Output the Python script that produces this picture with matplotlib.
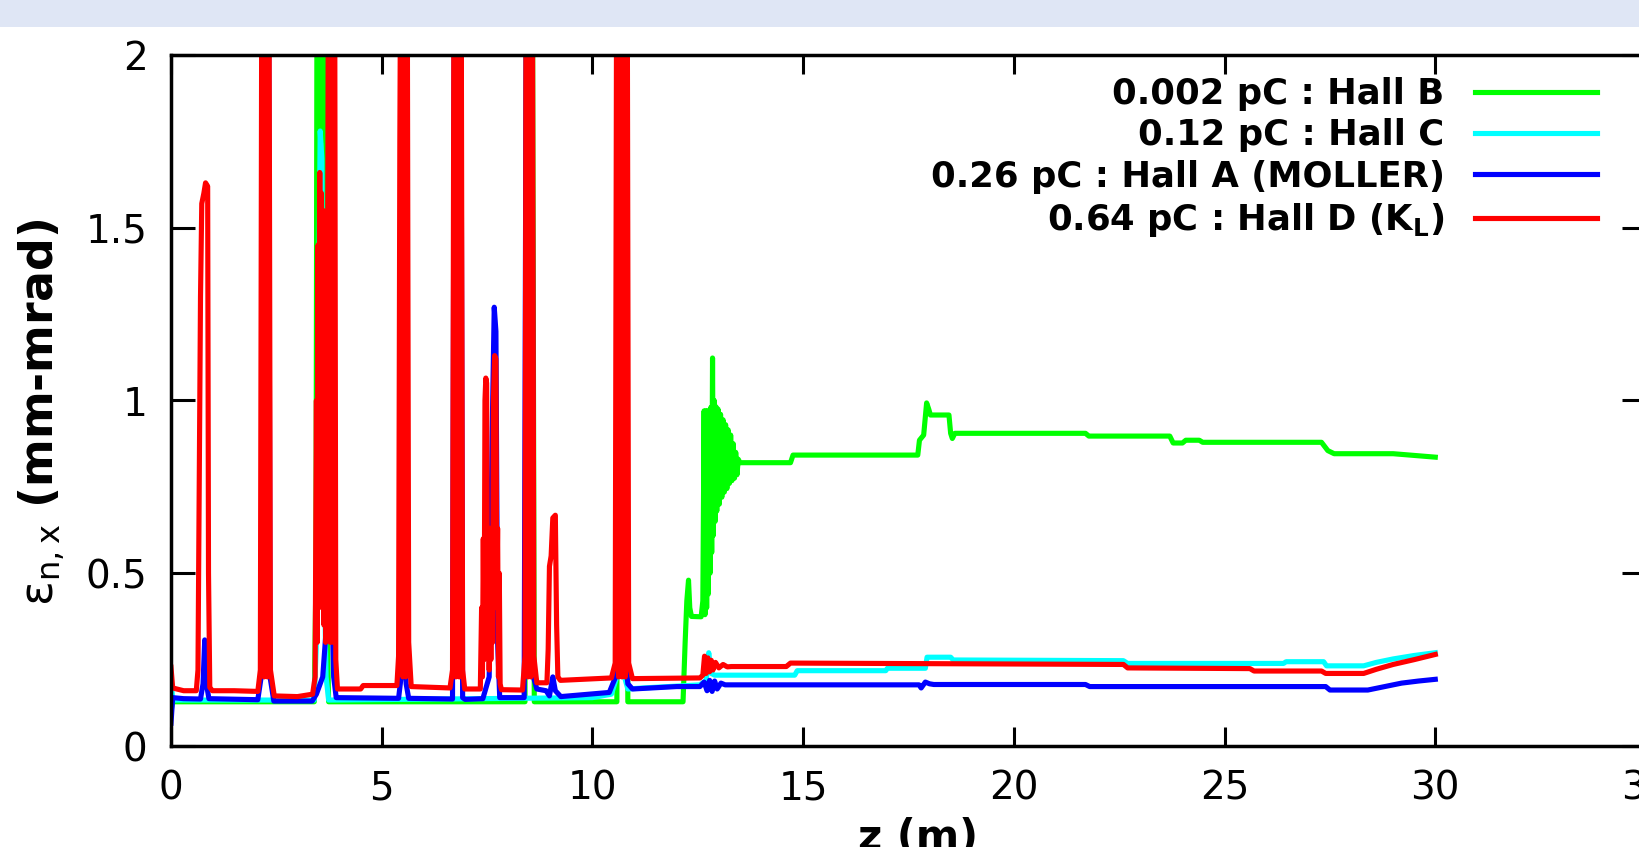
import matplotlib
matplotlib.use("Agg")
import matplotlib.pyplot as plt
from matplotlib.patches import Rectangle

# Normalised horizontal emittance along the beamline for four bunch charges
z_hallB = [0.00, 0.04, 3.40, 3.44, 3.47, 3.52, 3.56, 3.60, 3.65, 3.70, 3.74,
           8.40, 8.44, 8.57, 8.62, 10.58, 10.62, 10.80, 10.84,
           12.15, 12.20, 12.24, 12.28, 12.31, 12.35, 12.58, 12.62,
           12.65, 12.67, 12.69, 12.71, 12.73, 12.75, 12.77, 12.79, 12.81, 12.83,
           12.85, 12.87, 12.89, 12.91, 12.93, 12.95, 12.98, 13.01, 13.04, 13.07,
           13.10, 13.13, 13.16, 13.19, 13.22, 13.25, 13.28, 13.31, 13.34, 13.37,
           13.40, 13.43, 13.46, 13.50,
           14.70, 14.76, 17.72, 17.76, 17.86, 17.93, 17.98, 18.02, 18.46, 18.50,
           18.54, 18.60, 21.70, 21.78, 23.70, 23.78, 24.00, 24.08, 24.40, 24.48,
           27.30, 27.45, 27.60, 29.00, 29.60, 30.00]
emit_hallB = [0.100, 0.128, 0.128, 0.50, 2.6, 2.6, 1.75, 2.6, 2.6, 0.40, 0.128,
              0.128, 2.6, 2.6, 0.128, 0.128, 2.6, 2.6, 0.128,
              0.128, 0.30, 0.42, 0.48, 0.40, 0.375, 0.374, 0.42,
              0.97, 0.38, 0.97, 0.40, 0.97, 0.44, 0.97, 0.50, 0.98, 0.56,
              1.123, 0.61, 1.00, 0.65, 0.982, 0.68, 0.975, 0.70, 0.96, 0.72,
              0.944, 0.735, 0.93, 0.745, 0.915, 0.76, 0.90, 0.768, 0.875, 0.775,
              0.85, 0.785, 0.83, 0.82,
              0.82, 0.842, 0.842, 0.885, 0.90, 0.993, 0.975, 0.958, 0.958, 0.905,
              0.89, 0.905, 0.905, 0.897, 0.897, 0.877, 0.877, 0.885, 0.885, 0.879,
              0.879, 0.855, 0.846, 0.846, 0.840, 0.836]

z_hallC = [0.00, 0.04, 3.40, 3.45, 3.50, 3.54, 3.58, 3.62, 3.68, 3.74,
           10.00, 10.45, 10.58, 10.64, 10.70, 10.76, 10.84, 11.20, 12.55,
           12.70, 12.76, 12.82, 12.90, 14.80, 14.86, 16.96, 17.00, 17.90,
           17.94, 18.50, 18.56, 22.60, 22.70, 26.40, 26.46, 27.35, 27.42,
           28.30, 28.60, 29.00, 29.50, 30.00]
emit_hallC = [0.200, 0.133, 0.133, 0.30, 1.20, 1.78, 1.70, 0.60, 0.20, 0.133,
              0.140, 0.150, 0.20, 0.60, 0.25, 0.20, 0.165, 0.168, 0.177,
              0.19, 0.27, 0.21, 0.205, 0.205, 0.218, 0.218, 0.225, 0.225,
              0.257, 0.257, 0.249, 0.247, 0.239, 0.239, 0.244, 0.244, 0.232,
              0.232, 0.242, 0.252, 0.262, 0.270]

z_hallA = [0.00, 0.04, 0.30, 0.70, 0.76, 0.80, 0.84, 0.90, 2.06,
           2.14, 2.18, 2.31, 2.35, 2.44, 3.35, 3.45, 3.60, 3.75, 3.80, 3.86, 3.92,
           5.40, 5.46, 5.52, 5.58, 5.64, 6.68, 6.73, 6.87, 6.92, 6.98,
           7.40, 7.55, 7.62, 7.67, 7.71, 7.75, 7.80,
           8.38, 8.44, 8.56, 8.60, 8.68, 8.90, 8.98, 9.06, 9.12, 9.25,
           10.40, 10.55, 10.66, 10.71, 10.76, 10.84, 10.95,
           12.00, 12.55, 12.65, 12.72, 12.78, 12.84, 12.90, 12.96, 13.05, 13.15,
           17.75, 17.80, 17.90, 18.00, 18.10, 21.70, 21.80, 27.40, 27.50, 28.40,
           28.80, 29.20, 29.60, 30.00]
emit_hallA = [0.066, 0.140, 0.137, 0.136, 0.18, 0.307, 0.18, 0.137, 0.134,
              0.20, 2.6, 2.6, 0.20, 0.130, 0.130, 0.15, 0.20, 0.45, 0.50, 0.20, 0.140,
              0.138, 0.20, 0.365, 0.18, 0.138, 0.136, 2.6, 2.6, 0.14, 0.135,
              0.137, 0.20, 0.90, 1.27, 1.20, 0.30, 0.140,
              0.140, 2.6, 2.6, 0.20, 0.165, 0.160, 0.145, 0.20, 0.16, 0.143,
              0.155, 0.20, 1.27, 1.26, 0.292, 0.18, 0.165,
              0.172, 0.172, 0.185, 0.16, 0.19, 0.158, 0.188, 0.165, 0.182, 0.177,
              0.177, 0.168, 0.185, 0.180, 0.178, 0.178, 0.172, 0.172, 0.162, 0.162,
              0.172, 0.182, 0.188, 0.193]

z_hallD = [0.00, 0.04, 0.30, 0.60,
           0.64, 0.67, 0.70, 0.73, 0.78, 0.82, 0.87, 0.89, 0.92, 0.98,
           1.50, 2.06, 2.12, 2.16, 2.21, 2.24, 2.29, 2.32, 2.36, 2.45, 3.00, 3.36,
           3.42, 3.45, 3.47, 3.49, 3.51, 3.53, 3.55, 3.57, 3.59, 3.61, 3.63, 3.65,
           3.67, 3.70, 3.74, 3.78, 3.81, 3.85, 3.88, 3.91, 3.95,
           4.50, 4.56, 5.36, 5.40, 5.43, 5.46, 5.50, 5.53, 5.57, 5.60, 5.64, 5.70,
           6.62, 6.68, 6.72, 6.76, 6.80, 6.84, 6.88, 6.92, 6.97,
           7.34, 7.37, 7.39, 7.41, 7.43, 7.45, 7.47, 7.49, 7.51, 7.53, 7.55, 7.57,
           7.59, 7.61, 7.63, 7.65, 7.68, 7.71, 7.73, 7.75, 7.77, 7.79, 7.81, 7.84,
           8.34, 8.40, 8.43, 8.47, 8.50, 8.54, 8.57, 8.61, 8.68,
           8.92, 8.95, 8.98, 9.02, 9.06, 9.12, 9.15, 9.18, 9.24,
           10.45, 10.54, 10.58, 10.62, 10.66, 10.70, 10.74, 10.78, 10.82, 10.86,
           10.95,
           12.55, 12.62, 12.66, 12.70, 12.74, 12.78, 12.82, 12.86, 12.92, 13.00,
           13.10, 13.20, 13.30,
           14.60, 14.70, 22.60, 22.70, 25.60, 25.70, 27.30, 27.40, 28.30, 28.60,
           29.00, 29.50, 30.00]
emit_hallD = [0.228, 0.168, 0.160, 0.160,
              0.22, 0.75, 1.30, 1.57, 1.60, 1.63, 1.62, 0.50, 0.17, 0.160,
              0.160, 0.158, 0.22, 2.6, 0.2, 2.6, 0.2, 2.6, 0.22, 0.145, 0.143, 0.150,
              0.20, 1.00, 0.30, 1.45, 0.40, 1.66, 0.50, 1.60, 0.45, 1.55, 0.35, 1.30,
              0.30, 0.45, 2.6, 0.3, 2.6, 0.3, 2.6, 0.25, 0.165,
              0.165, 0.175, 0.175, 0.26, 1.75, 2.6, 0.2, 2.6, 0.2, 2.6, 0.30, 0.172,
              0.168, 0.22, 2.6, 0.2, 2.6, 0.2, 2.6, 0.22, 0.165,
              0.165, 0.40, 0.20, 0.60, 0.25, 1.00, 1.065, 1.05, 0.30, 0.63, 0.22, 0.63,
              0.25, 0.63, 0.30, 1.00, 1.13, 1.12, 0.40, 0.63, 0.20, 0.50, 0.18, 0.163,
              0.162, 0.26, 2.6, 0.2, 2.6, 0.2, 2.6, 0.26, 0.183,
              0.183, 0.28, 0.52, 0.55, 0.66, 0.668, 0.35, 0.20, 0.190,
              0.197, 0.24, 2.6, 0.2, 2.6, 0.2, 2.6, 0.2, 2.6, 0.24,
              0.195,
              0.197, 0.205, 0.26, 0.21, 0.255, 0.215, 0.248, 0.22, 0.242, 0.226,
              0.236, 0.229, 0.230,
              0.230, 0.240, 0.236, 0.226, 0.224, 0.217, 0.217, 0.210, 0.210, 0.222,
              0.236, 0.250, 0.265]

series = [
    (z_hallB, emit_hallB, "#00ff00", "0.002 pC : Hall B"),
    (z_hallC, emit_hallC, "#00ffff", "0.12 pC : Hall C"),
    (z_hallA, emit_hallA, "#0000ff", "0.26 pC : Hall A (MOLLER)"),
    (z_hallD, emit_hallD, "#ff0000", r"0.64 pC : Hall D (K$_{\mathbf{L}}$)"),
]

xticks = [0, 5, 10, 15, 20, 25, 30, 35]
yticks = [0, 0.5, 1, 1.5, 2]
ytick_labels = ["0", "0.5", "1", "1.5", "2"]

W, H = 1639, 847
fig = plt.figure(figsize=(W / 100, H / 100), dpi=100)
fig.patch.set_facecolor("white")

# pale banner across the top edge
fig.patches.append(Rectangle((0, 1 - 27 / H), 1, 27 / H, transform=fig.transFigure,
                             facecolor="#dfe6f5", edgecolor="none", zorder=0))

left, right, bottom, top = 171, 1646, 746, 55
ax = fig.add_axes([left / W, (H - bottom) / H, (right - left) / W, (bottom - top) / H])

handles = []
for z, e, c, lab in series:
    ln, = ax.plot(z, e, color=c, lw=3.7, label=lab)
    handles.append(ln)

ax.set_xlim(0, 35)
ax.set_ylim(0, 2)
ax.set_xticks(xticks)
ax.set_xticklabels([str(t) for t in xticks])
ax.set_yticks(yticks)
ax.set_yticklabels(ytick_labels)
for s in ax.spines.values():
    s.set_linewidth(2.5)
ax.tick_params(axis="both", direction="in", top=True, right=True,
               width=2.2, labelsize=28, pad=17, colors="black")
ax.tick_params(axis="x", length=14)
ax.tick_params(axis="y", length=17)

ax.legend(handles=handles, loc="upper right", markerfirst=False, frameon=False,
          prop=dict(weight="bold", size=25.5), handlelength=3.45, handletextpad=0.85,
          labelspacing=0.21, borderpad=0, borderaxespad=0,
          bbox_to_anchor=(1597 / W, 1 - 77 / H), bbox_transform=fig.transFigure)

fig.text(42 / W, 1 - 412 / H, r"$\mathrm{\varepsilon_{n,x}}$ (mm-mrad)", rotation=90,
         ha="center", va="center", fontsize=33, fontweight="bold")
fig.text(918 / W, 1 - 850 / H, "z (m)", ha="center", va="baseline",
         fontsize=30, fontweight="bold")

fig.savefig("out.png", dpi=100)
